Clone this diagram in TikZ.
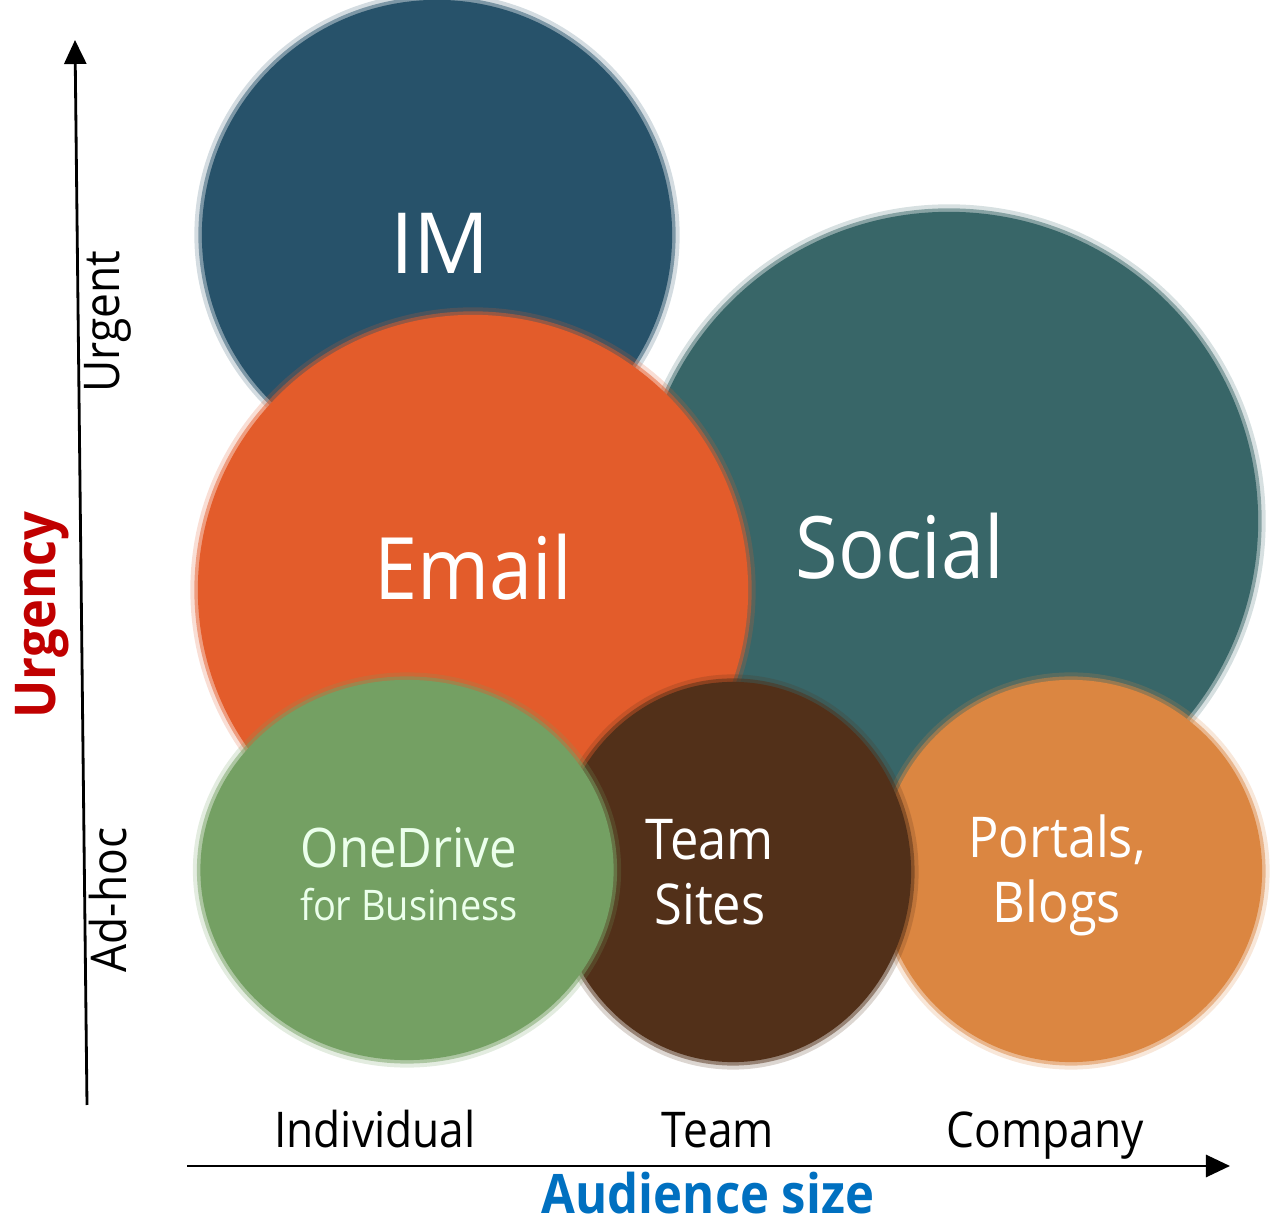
\documentclass[tikz,border=0pt]{standalone}
\usepackage{fontspec}
\setmainfont{Open Sans}[FakeStretch=0.9]
\newfontfamily\wide{Open Sans}
\usetikzlibrary{shapes.geometric,arrows.meta}

\definecolor{imblue}{HTML}{27526A}
\definecolor{socteal}{HTML}{386668}
\definecolor{mailred}{HTML}{E35C2B}
\definecolor{odgreen}{HTML}{74A063}
\definecolor{tsbrown}{HTML}{523019}
\definecolor{portorange}{HTML}{DB8641}
\definecolor{urgred}{HTML}{C00000}
\definecolor{audblue}{HTML}{0070C0}

\begin{document}
\begin{tikzpicture}[x=0.01cm,y=-0.01cm,
    blob/.style={ellipse,inner sep=0pt,fill=#1,draw=#1,draw opacity=0.5,line width=0.07cm,
                 preaction={draw=#1,draw opacity=0.2,line width=0.15cm}},
    bigtxt/.style={text=white,font=\fontsize{24.5}{28}\selectfont},
    midtxt/.style={text=white,align=center,font=\fontsize{16}{18.5}\selectfont},
    axtxt/.style={font=\fontsize{14}{16}\selectfont},
    axis/.style={line width=0.8pt,-{Triangle[length=0.24cm,width=0.22cm]}}]
  \useasboundingbox (0,0) rectangle (1281,1225);

  % bubbles, back to front
  \node[blob=socteal,minimum width=6.18cm,minimum height=6.18cm] (social) at (949,521) {};
  \node[blob=imblue,minimum width=4.7cm,minimum height=4.7cm] (im) at (437,235) {};
  \node[blob=mailred,minimum width=5.5cm,minimum height=5.5cm] (email) at (473,590) {};
  \node[blob=portorange,minimum width=3.82cm,minimum height=3.82cm] (portals) at (1071,871) {};
  \node[blob=tsbrown,minimum width=3.56cm,minimum height=3.8cm] (team) at (733,872) {};
  \node[blob=odgreen,minimum width=4.13cm,minimum height=3.8cm] (onedrive) at (407,870) {};

  % labels
  \node[bigtxt,font=\wide\fontsize{24}{28}\selectfont] (imtxt) at (440,243) {IM};
  \node[bigtxt] (emailtxt) at (473,567) {Email};
  \node[bigtxt] (socialtxt) at (900,546) {Social};
  \node[midtxt,text=white!92!green,font=\fontsize{15.5}{18}\selectfont] (odtxt) at (409,874)
    {OneDrive\\[-3pt]{\fontsize{12}{14}\selectfont for Business}};
  \node[midtxt] (teamtxt) at (710,872) {Team\\Sites};
  \node[midtxt] (portaltxt) at (1057,875) {Portals,\\Blogs};

  % axes
  \coordinate (yfoot) at (87,1105);
  \coordinate (ytip) at (75,40);
  \coordinate (xfoot) at (187,1166);
  \coordinate (xtip) at (1230,1166);
  \draw[axis] (yfoot) -- (ytip);
  \draw[axis] (xfoot) -- (xtip);

  \node[axtxt,rotate=90] (urgent) at (108,322) {Urgent};
  \node[axtxt,rotate=90] (adhoc) at (108,900) {Ad-hoc};
  \node[rotate=90,text=urgred,font=\fontsize{16}{18}\selectfont\bfseries] (urgency) at (42,615) {Urgency};
  \node[axtxt,anchor=base] (indiv) at (375,1148) {Individual};
  \node[axtxt,anchor=base] (teamax) at (718,1148) {Team};
  \node[axtxt,anchor=base] (company) at (1045,1148) {Company};
  \node[text=audblue,inner sep=0pt,anchor=base,font=\fontsize{15.5}{17}\selectfont\bfseries] (audience) at (708,1214) {Audience size};
\end{tikzpicture}
\end{document}
